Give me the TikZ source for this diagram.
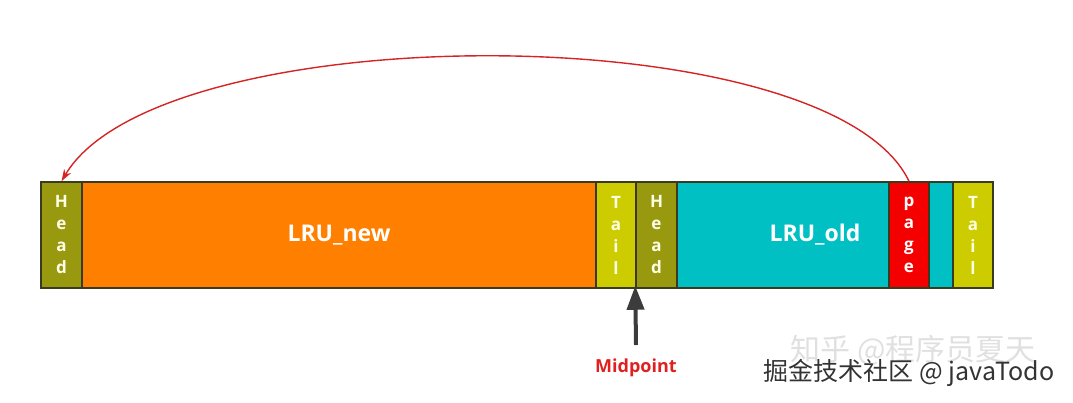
\documentclass[tikz,border=0pt]{standalone}
\usepackage{fontspec}
\setmainfont{Open Sans}
\newfontfamily\cjkfont{Noto Sans CJK SC}
\usetikzlibrary{arrows.meta}
\definecolor{olivehd}{HTML}{999910}
\definecolor{yellowtl}{HTML}{CCCC00}
\definecolor{orangenew}{HTML}{FF8000}
\definecolor{cyanold}{HTML}{00C0C4}
\definecolor{redpage}{HTML}{F50000}
\definecolor{edgedark}{HTML}{3A3A20}
\definecolor{arcred}{HTML}{D42424}
\definecolor{midred}{HTML}{E02020}
\definecolor{midgray}{HTML}{3C3C3C}

\begin{document}
\begin{tikzpicture}[x=1pt,y=-1pt,
  seg/.style={draw=edgedark,line width=1.5pt,minimum height=106pt,inner sep=0pt,
    text=white,font=\bfseries},
  vlabel/.style={align=center,font=\fontsize{17}{22}\selectfont\bfseries,text=white!90!yellow},
  biglabel/.style={font=\fontsize{23}{26}\selectfont\bfseries},
  arc/.style={draw=arcred,line width=1.4pt,-{Stealth[length=12pt,width=8pt]}},
  midarrow/.style={draw=midgray,line width=4pt,-{Triangle[length=24pt,width=17pt]}},
  mark text/.style={inner sep=0pt,font=\cjkfont}]
\useasboundingbox (0,0) rectangle (1073,402);
%%% bar %%%%
%% blocks
\node[seg,fill=olivehd,minimum width=41pt,vlabel] (head1) at (61.5,235) {H\\e\\a\\d};
\node[seg,fill=orangenew,minimum width=514pt,biglabel] (lrunew) at (339,235) {LRU\_new};
\node[seg,fill=yellowtl,minimum width=40pt,vlabel] (tail1) at (616,235) {T\\a\\i\\l};
\node[seg,fill=olivehd,minimum width=41pt,vlabel] (head2) at (656.5,235) {H\\e\\a\\d};
\node[seg,fill=cyanold,minimum width=276pt,biglabel] (lruold) at (815,235) {LRU\_old};
\node[seg,fill=redpage,minimum width=40pt,vlabel,text=white] (page) at (909,235) {p\\a\\g\\e};
\node[seg,fill=yellowtl,minimum width=40pt,vlabel] (tail2) at (973,235) {T\\a\\i\\l};

%% edges
\draw[arc] (page.north) .. controls (830,15) and (160,15) .. (head1.north);

%%% midpoint %%%%
\coordinate (midfoot) at (636,345);
\draw[midarrow] (midfoot) -- ([yshift=3pt]head2.south west);
\node[text=midred,font=\fontsize{18}{20}\selectfont\bfseries] (midlabel) at (636,368) {Midpoint};

%% labels
\node[mark text,text=black!12] (zhihu) at (913,350) {\fontsize{30}{32}\selectfont 知乎 @程序员夏天};
\node[mark text,text=black!80] (juejin) at (909,373) {\fontsize{25}{28}\selectfont 掘金技术社区 @ javaTodo};
\end{tikzpicture}
\end{document}
